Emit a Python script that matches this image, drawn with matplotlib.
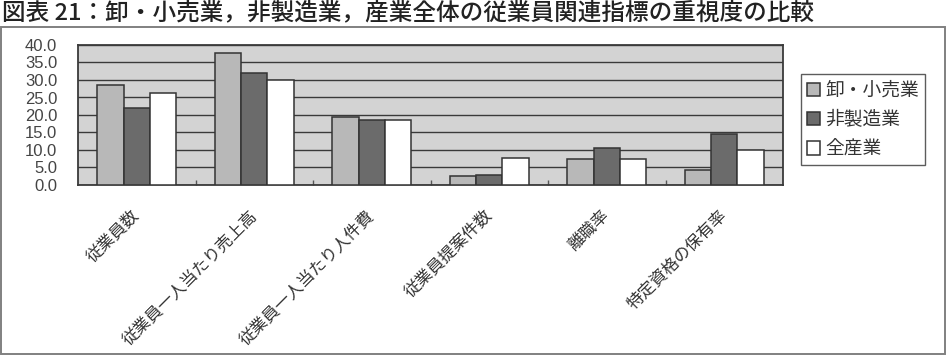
import numpy as np
import matplotlib
matplotlib.use('Agg')
import matplotlib.pyplot as plt
from matplotlib.patches import Rectangle
from matplotlib.ticker import FixedLocator

plt.rcParams['font.family'] = ['Noto Sans CJK JP', 'DejaVu Sans']

# データ
categories = ['従業員数', '従業員一人当たり売上高', '従業員一人当たり人件費',
              '従業員提案件数', '離職率', '特定資格の保有率']
series_names = ['卸・小売業', '非製造業', '全産業']
oroshi = [28.6, 37.8, 19.3, 2.6, 7.4, 4.3]
hiseizo = [21.9, 31.9, 18.6, 2.8, 10.7, 14.6]
zensangyo = [26.4, 30.0, 18.6, 7.6, 7.3, 10.0]
y_ticks = [0, 5, 10, 15, 20, 25, 30, 35, 40]

colors = ['#b8b8b8', '#6b6b6b', '#ffffff']
title = '図表 21：卸・小売業，非製造業，産業全体の従業員関連指標の重視度の比較'

fig = plt.figure(figsize=(9.47, 3.6), dpi=100)

# 外枠
fig.patches.append(Rectangle((1/947, 1-354/360), 944/947, 327/360,
                             transform=fig.transFigure, fill=False,
                             edgecolor='#808080', linewidth=1.4))

# タイトル
fig.text(2/947, 1-19/360, title, fontsize=17, color='#222222',
         ha='left', va='baseline', weight='medium')

ax = fig.add_axes([78/947, 1-185/360, 705/947, 140/360])
ax.set_facecolor('#d3d3d3')

x = np.arange(len(categories)) + 0.5
w = 0.224
values = [oroshi, hiseizo, zensangyo]
for i, v in enumerate(values):
    ax.bar(x + (i-1)*w, v, width=w, color=colors[i], edgecolor='#333333',
           linewidth=1.1, label=series_names[i], zorder=3)

ax.set_xlim(0, len(categories))
ax.set_ylim(0, 40)
ax.set_yticks(y_ticks)
ax.set_yticklabels(['%.1f' % t for t in y_ticks], family='Liberation Sans',
                   fontsize=12, color='#444444')
ax.yaxis.grid(True, color='#3a3a3a', linewidth=1.0, zorder=1)
ax.set_axisbelow(True)
ax.tick_params(axis='y', length=0, pad=15)

ax.set_xticks(x)
ax.set_xticklabels(categories, rotation=45, ha='right', va='center',
                   rotation_mode='anchor', fontsize=12, color='#333333')
ax.tick_params(axis='x', which='major', length=0, pad=20)
ax.xaxis.set_minor_locator(FixedLocator(np.arange(1, len(categories))))
ax.tick_params(axis='x', which='minor', direction='in', length=3.5,
               width=1.0, color='#555555')

for s in ax.spines.values():
    s.set_color('#3a3a3a')
    s.set_linewidth(1.3)

leg = fig.legend(loc='upper left', bbox_to_anchor=(801/947, 1-74/360),
                 fontsize=13.5, frameon=True, fancybox=False,
                 edgecolor='#333333', handlelength=0.7, handleheight=0.7,
                 handletextpad=0.3, labelspacing=0.45, borderpad=0.3,
                 borderaxespad=0)
leg.get_frame().set_linewidth(1.0)
for t in leg.get_texts():
    t.set_color('#333333')

plt.savefig('out.png', dpi=100)
